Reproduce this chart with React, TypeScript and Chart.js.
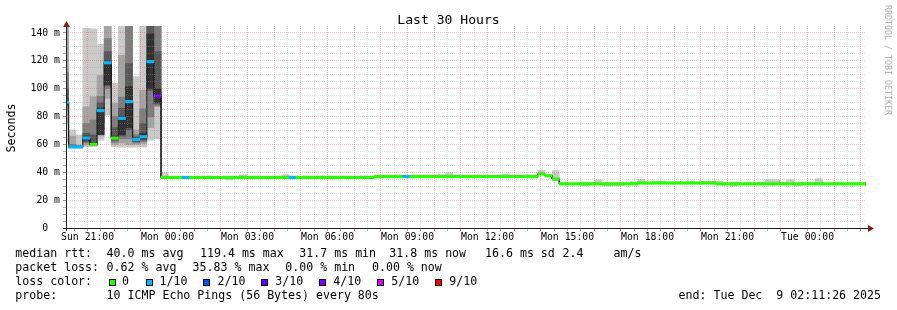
import React, { useEffect, useRef } from 'react';
import { Chart, registerables } from 'chart.js';

Chart.register(...registerables);

const FONT = '"DejaVu Sans Mono", monospace';

// ---- time axis (hours counted from Sunday 00:00) ----
const START_H = 20 + 11 / 60 + 26 / 3600; // Sun 20:11:26
const END_H = START_H + 30; // Tue 02:11:26
const BIN0_START_H = 20.0216; // start of first 16-minute consolidation bin
const BIN_H = 16 / 60;

const X_TICK_HOURS = [21, 24, 27, 30, 33, 36, 39, 42, 45, 48];
const X_TICK_LABELS = ['Sun 21:00', 'Mon 00:00', 'Mon 03:00', 'Mon 06:00', 'Mon 09:00', 'Mon 12:00', 'Mon 15:00', 'Mon 18:00', 'Mon 21:00', 'Tue 00:00'];
const Y_TICK_VALUES = [0, 20, 40, 60, 80, 100, 120, 140];
const Y_TICK_LABELS = ['0  ', '20 m', '40 m', '60 m', '80 m', '100 m', '120 m', '140 m'];
const Y_MAX = 145;

// ---- per-bin data (ms) ----
const MEDIAN = [
  90.3, 58.2, 58.2, 64.6, 60.0, 84.3, 118.6, 64.5, 78.7, 90.7, 63.5, 65.5, 119.4, 94.8,
  36.3, 36.3, 36.3, 36.3, 36.3, 36.3, 36.3, 36.3, 36.3, 36.3, 36.3, 36.3, 36.3, 36.3, 36.3,
  36.3, 36.3, 36.3, 36.3, 36.3, 36.3, 36.3, 36.3, 36.3, 36.3, 36.3, 36.3, 36.3, 36.3, 36.3,
  36.9, 36.9, 36.9, 36.9, 36.9, 36.9, 36.9, 36.9, 36.9, 36.9, 36.9, 36.9, 36.9, 36.9, 36.9,
  36.9, 36.9, 36.9, 36.9, 36.9, 36.9, 36.9, 36.9,
  38.8, 37.5, 35.2,
  31.7, 31.7, 31.7, 31.7, 31.7, 31.7, 31.7, 31.7, 31.7, 31.7, 31.7,
  32.3, 32.3, 32.3, 32.3, 32.3, 32.3, 32.3, 32.3, 32.3, 32.3, 32.3,
  31.7, 31.7, 31.7, 31.7, 31.7, 31.7, 31.7, 31.7, 31.7, 31.7, 31.7,
  31.7, 31.7, 31.7, 31.7, 31.7, 31.7, 31.7, 31.7, 31.7, 31.7, 31.7,
];

// loss bucket per bin: 0 = 0, 1 = 1/10, 2 = 2/10, 3 = 3/10, 4 = 4/10, 5 = 5/10, 6 = 9/10
const LOSS = [
  1, 1, 1, 1, 0, 1, 1, 0, 1, 1, 1, 1, 1, 4,
  0, 0, 0, 1, 0, 0, 0, 0, 0, 0, 0, 0, 0, 0, 0,
  0, 0, 0, 1, 0, 0, 0, 0, 0, 0, 0, 0, 0, 0, 0,
  0, 0, 0, 0, 1, 0, 0, 0, 0, 0, 0, 0, 0, 0, 0,
  0, 0, 0, 0, 0, 0, 0, 0,
  0, 0, 0,
  0, 0, 0, 0, 0, 0, 0, 0, 0, 0, 0,
  0, 0, 0, 0, 0, 0, 0, 0, 0, 0, 0,
  0, 0, 0, 0, 0, 0, 0, 0, 0, 0, 0,
  0, 0, 0, 0, 0, 0, 0, 0, 0, 0, 0,
];

// outermost smoke band (min .. max ping) for every bin
const SMOKE1_LO = [
  62, 57.5, 57.5, 58.4, 58.5, 63, 81, 58.4, 58, 58, 58, 58, 63.1, 64,
  35.8, 35.8, 35.8, 35.8, 35.8, 35.8, 35.8, 35.8, 35.8, 34.6, 35.8, 35.8, 35.8, 35.8, 35.8,
  35.8, 35.8, 35.8, 35.8, 35.8, 35.8, 35.8, 35.8, 35.8, 35.8, 35.8, 35.8, 35.8, 35.8, 35.8,
  36.4, 36.4, 36.4, 36.4, 36.4, 36.4, 36.4, 36.4, 36.4, 36.4, 36.4, 36.4, 36.4, 36.4, 36.4,
  36.4, 36.4, 36.4, 36.4, 36.4, 36.4, 36.4, 36.4,
  38.3, 37.0, 34.0,
  31.2, 31.2, 31.2, 30.2, 30.7, 31.2, 30.2, 30.2, 30.2, 31.2, 31.2,
  31.8, 31.8, 31.8, 31.8, 31.8, 31.8, 31.8, 31.8, 31.8, 31.8, 31.8,
  31.2, 31.2, 30.2, 31.2, 31.2, 31.2, 31.2, 31.2, 31.2, 31.2, 31.2,
  30.2, 31.2, 31.2, 31.2, 31.2, 31.2, 31.2, 31.2, 31.2, 31.2, 31.2,
];
const SMOKE1_HI = [
  145, 70.4, 66.8, 143.3, 143, 132, 145, 104, 145, 145, 108.6, 145, 145, 145,
  39.7, 36.8, 36.8, 36.8, 36.8, 36.8, 36.8, 36.8, 36.8, 36.8, 36.8, 38.3, 36.8, 37.3, 36.8,
  36.8, 37.3, 38.3, 37.3, 36.8, 37.3, 36.8, 37.3, 37.3, 36.8, 37.3, 36.8, 36.8, 37.3, 36.8,
  37.4, 37.4, 37.4, 38.0, 37.4, 37.4, 37.4, 37.4, 37.4, 38.3, 39.7, 38.0, 37.4, 37.4, 37.4,
  38.0, 38.0, 37.4, 38.8, 37.4, 37.4, 38.2, 37.4,
  41.6, 38.0, 41.1,
  33.0, 32.2, 32.2, 33.0, 32.8, 34.7, 32.2, 32.2, 32.2, 32.2, 33.3,
  34.9, 32.8, 33.7, 33.7, 32.8, 32.8, 32.8, 33.7, 32.8, 33.7, 33.7,
  33.7, 32.2, 33.0, 32.2, 33.0, 32.2, 33.0, 34.7, 34.7, 32.2, 34.7,
  32.2, 33.0, 33.0, 35.4, 32.2, 32.2, 33.0, 32.2, 32.2, 32.2, 32.2,
];

// inner smoke bands for the first 14 bins (thinner than a pixel afterwards)
const SMOKE2_LO = [75, 57.8, 57.8, 59.5, 59, 66, 93, 60, 61, 60, 60, 60.5, 72, 87];
const SMOKE2_HI = [145, 66, 59.5, 87, 94.3, 109.5, 145, 89.6, 124, 145, 70.4, 99, 145, 145];
const SMOKE3_LO = [84, 58, 58, 61, 59.5, 70, 100, 61.5, 64, 64, 61, 62, 79.8, 88];
const SMOKE3_HI = [112, 60, 59, 75, 77.5, 94.6, 136, 80, 94, 145, 67, 85.6, 145, 145];
const SMOKE4_LO = [88, 58, 58, 62, 59.7, 75, 102, 63, 66, 70.4, 62, 63, 98.8, 89];
const SMOKE4_HI = [100, 59, 58.6, 68, 66.8, 90, 126.6, 72, 86, 118, 65.5, 75, 145, 126.6];
const SMOKE5_LO = [89.5, 58.1, 58.1, 63, 59.8, 67, 103, 63.5, 67, 72, 62.5, 64, 100, 90];
const SMOKE5_HI = [92, 58.4, 58.4, 66, 61, 86, 120, 66, 80, 101.5, 64.5, 68, 139.3, 100];

const SMOKE_COLORS = ['#cacaca', '#a4a4a4', '#7e7e7e', '#585858', '#323232'];
const LOSS_COLORS = ['#26ff00', '#00b8ff', '#0059ff', '#5e00ff', '#7e00ff', '#dd00ff', '#ff0000'];
const LOSS_LABELS = ['0', '1/10', '2/10', '3/10', '4/10', '5/10', '9/10'];
const MEDIAN_HALF_WIDTH = 0.9;

const binCenter = (i: number) => BIN0_START_H + (i + 0.5) * BIN_H;
const binStart = (i: number) => BIN0_START_H + i * BIN_H;

const X_GRID: number[] = [];
for (let h = 20.5; h <= 50.0001; h += 0.5) X_GRID.push(h);
const Y_GRID: number[] = [];
for (let v = 0; v <= 140; v += 5) Y_GRID.push(v);

const MAJOR = 'rgba(230,80,80,0.36)';
const MINOR = 'rgba(150,150,150,0.3)';
const MAJOR_TICK = 'rgba(220,70,70,0.7)';
const MINOR_TICK = 'rgba(140,140,140,0.6)';

function bandData(lo: number[], hi: number[]) {
  return lo.map((l, i) => ({ x: binCenter(i), y: [l, hi[i]] }));
}

const axesPlugin = {
  id: 'rrdAxes',
  afterDraw(chart: any) {
    const { ctx, chartArea: a } = chart;
    ctx.save();
    ctx.strokeStyle = '#202020';
    ctx.lineWidth = 1;
    ctx.beginPath();
    ctx.moveTo(a.left - 3, a.bottom + 0.5);
    ctx.lineTo(a.right + 3, a.bottom + 0.5);
    ctx.moveTo(a.left + 0.5, a.bottom + 3);
    ctx.lineTo(a.left + 0.5, a.top);
    ctx.stroke();
    ctx.fillStyle = '#801f1f';
    ctx.beginPath();
    ctx.moveTo(a.right + 2, a.bottom + 0.5 - 3.5);
    ctx.lineTo(a.right + 2, a.bottom + 0.5 + 3.5);
    ctx.lineTo(a.right + 8, a.bottom + 0.5);
    ctx.closePath();
    ctx.fill();
    ctx.beginPath();
    ctx.moveTo(a.left + 0.5 - 3.5, a.top + 1);
    ctx.lineTo(a.left + 0.5 + 3.5, a.top + 1);
    ctx.lineTo(a.left + 0.5, a.top - 5);
    ctx.closePath();
    ctx.fill();
    ctx.restore();
  },
};

function buildConfig(): any {
  const smokeLo = [SMOKE1_LO, SMOKE2_LO, SMOKE3_LO, SMOKE4_LO, SMOKE5_LO];
  const smokeHi = [SMOKE1_HI, SMOKE2_HI, SMOKE3_HI, SMOKE4_HI, SMOKE5_HI];
  const datasets: any[] = smokeLo.map((lo, b) => ({
    type: 'bar',
    data: bandData(lo, smokeHi[b]),
    backgroundColor: SMOKE_COLORS[b],
    borderWidth: 0,
    grouped: false,
    barPercentage: 1,
    categoryPercentage: 1,
    clip: 0,
    order: 10 - b,
  }));

  const medianLine: { x: number; y: number }[] = [];
  MEDIAN.forEach((m, i) => {
    medianLine.push({ x: binStart(i), y: m }, { x: binStart(i + 1), y: m });
  });
  datasets.push({
    type: 'line',
    data: medianLine,
    borderColor: '#202020',
    borderWidth: 1,
    pointRadius: 0,
    fill: false,
    tension: 0,
    clip: 0,
    order: 1,
  });
  datasets.push({
    type: 'bar',
    data: MEDIAN.map((m, i) => ({ x: binCenter(i), y: [m - MEDIAN_HALF_WIDTH, m + MEDIAN_HALF_WIDTH] })),
    backgroundColor: (c: any) => LOSS_COLORS[LOSS[c.dataIndex]] || LOSS_COLORS[0],
    borderWidth: 0,
    grouped: false,
    barPercentage: 1,
    categoryPercentage: 1,
    clip: 0,
    order: 0,
  });

  const tickFont = { family: FONT, size: 9.8 };
  return {
    type: 'bar',
    data: { datasets },
    plugins: [axesPlugin],
    options: {
      responsive: false,
      animation: false,
      events: [],
      layout: { padding: { left: 0, right: 31, top: 26, bottom: 0 } },
      plugins: { legend: { display: false }, tooltip: { enabled: false }, title: { display: false } },
      scales: {
        x: {
          type: 'linear',
          min: START_H,
          max: END_H,
          offset: false,
          afterBuildTicks: (s: any) => {
            s.ticks = X_GRID.map((v) => ({ value: v }));
          },
          afterFit: (s: any) => {
            s.height = 82;
          },
          grid: {
            z: 1,
            offset: false,
            lineWidth: 1,
            color: (c: any) => (Number.isInteger(c.tick?.value) ? MAJOR : MINOR),
            tickColor: (c: any) => (Number.isInteger(c.tick?.value) ? MAJOR_TICK : MINOR_TICK),
            drawTicks: true,
            tickLength: 3,
            tickBorderDash: [],
            borderDash: [1, 1],
          },
          border: { display: false, dash: [1, 1] },
          ticks: {
            autoSkip: false,
            maxRotation: 0,
            minRotation: 0,
            padding: 1,
            color: '#000',
            font: tickFont,
            callback: (v: number) => {
              const idx = X_TICK_HOURS.indexOf(v);
              return idx >= 0 ? X_TICK_LABELS[idx] : '';
            },
          },
        },
        y: {
          type: 'linear',
          min: 0,
          max: Y_MAX,
          afterBuildTicks: (s: any) => {
            s.ticks = Y_GRID.map((v) => ({ value: v }));
          },
          afterFit: (s: any) => {
            s.width = 66;
          },
          grid: {
            z: 1,
            lineWidth: 1,
            color: (c: any) => (c.tick && c.tick.value % 20 === 0 ? MAJOR : MINOR),
            tickColor: (c: any) => (c.tick && c.tick.value % 20 === 0 ? MAJOR_TICK : MINOR_TICK),
            drawTicks: true,
            tickLength: 3,
            tickBorderDash: [],
            borderDash: [1, 1],
          },
          border: { display: false, dash: [1, 1] },
          ticks: {
            autoSkip: false,
            padding: 3,
            color: '#000',
            font: tickFont,
            callback: (v: number) => {
              const idx = Y_TICK_VALUES.indexOf(v);
              return idx >= 0 ? Y_TICK_LABELS[idx] : '';
            },
          },
        },
      },
    },
  };
}

const LEGEND_SIZE = 11.6;

function Txt({ x, base, size = LEGEND_SIZE, children, right }: any) {
  const style: any = {
    position: 'absolute',
    top: base - 0.846 * size,
    fontSize: size,
    lineHeight: `${size}px`,
    whiteSpace: 'pre',
    color: '#000',
  };
  if (right !== undefined) style.right = right;
  else style.left = x;
  return <div style={style}>{children}</div>;
}

const ROW1 = [
  [15.3, 'median rtt:'],
  [106.6, '40.0 ms avg'],
  [200, '119.4 ms max'],
  [299.3, '31.7 ms min'],
  [389.3, '31.8 ms now'],
  [485, '16.6 ms sd'],
  [562.6, '2.4'],
  [613.6, 'am/s'],
];
const ROW2 = [
  [15.3, 'packet loss:'],
  [106.6, '0.62 % avg'],
  [192.6, '35.83 % max'],
  [285.3, '0.00 % min'],
  [372, '0.00 % now'],
];
const LOSS_SWATCH_X = [108.7, 145.7, 203.3, 261, 319, 377, 435.3];
const LOSS_LABEL_X = [122, 159.6, 217.6, 275.3, 333.3, 391.3, 449.3];

export default function App() {
  const ref = useRef<HTMLCanvasElement>(null);
  useEffect(() => {
    const chart = new Chart(ref.current as HTMLCanvasElement, buildConfig());
    return () => chart.destroy();
  }, []);

  return (
    <div
      style={{
        position: 'absolute',
        left: 0,
        top: 0,
        width: 897,
        height: 310,
        background: '#fff',
        overflow: 'hidden',
        fontFamily: FONT,
      }}
    >
      <canvas ref={ref} width={897} height={310} style={{ position: 'absolute', left: 0, top: 0 }} />
      <Txt x={0} base={24} size={13.1}>
        <span style={{ position: 'absolute', left: 448.5, transform: 'translateX(-50%)' }}>Last 30 Hours</span>
      </Txt>
      <div
        style={{
          position: 'absolute',
          left: -14,
          top: 122,
          width: 50,
          height: 12,
          textAlign: 'center',
          transform: 'rotate(-90deg)',
          fontSize: 11.6,
          lineHeight: '12px',
          whiteSpace: 'pre',
          color: '#000',
        }}
      >
        Seconds
      </div>
      <div
        style={{
          position: 'absolute',
          left: 888.3,
          top: 60,
          transform: 'translate(-50%, -50%) rotate(90deg)',
          fontSize: 8.3,
          lineHeight: '8.3px',
          whiteSpace: 'pre',
          color: '#aaaaaa',
        }}
      >
        RRDTOOL / TOBI OETIKER
      </div>
      {ROW1.map(([x, t]) => (
        <Txt key={'r1' + x} x={x} base={258.3}>{t}</Txt>
      ))}
      {ROW2.map(([x, t]) => (
        <Txt key={'r2' + x} x={x} base={272}>{t}</Txt>
      ))}
      <Txt x={15.3} base={285.7}>loss color:</Txt>
      {LOSS_COLORS.map((c, i) => (
        <div
          key={'sw' + i}
          style={{
            position: 'absolute',
            left: Math.round(LOSS_SWATCH_X[i]),
            top: 279,
            width: 5,
            height: 5,
            border: '1px solid #000',
            background: c,
          }}
        />
      ))}
      {LOSS_LABELS.map((l, i) => (
        <Txt key={'ll' + i} x={LOSS_LABEL_X[i]} base={285.7}>{l}</Txt>
      ))}
      <Txt x={15.3} base={299.4}>probe:</Txt>
      <Txt x={106.6} base={299.4}>10 ICMP Echo Pings (56 Bytes) every 80s</Txt>
      <Txt right={16} base={299.4}>end: Tue Dec  9 02:11:26 2025</Txt>
    </div>
  );
}
